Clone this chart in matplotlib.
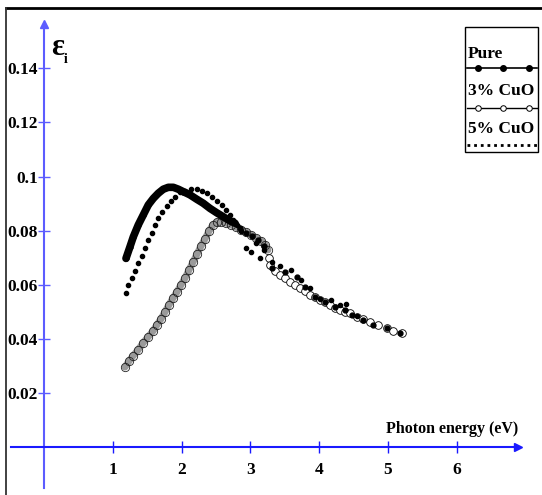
import matplotlib
matplotlib.use('Agg')
import numpy as np
import matplotlib.pyplot as plt
from matplotlib.lines import Line2D
from matplotlib.patches import Rectangle

# photon energy (eV) / imaginary part of dielectric constant
pure_e = [1.189, 1.247, 1.296, 1.368, 1.441, 1.514, 1.587, 1.659, 1.732, 1.805,
          1.878, 1.951, 2.023, 2.121, 2.218, 2.314, 2.412, 2.509, 2.606, 2.703,
          2.776, 2.849, 2.936, 3.023, 3.110, 3.198, 3.314, 3.503, 3.678, 3.795,
          3.940, 4.086, 4.231, 4.377, 4.479, 4.639, 4.785, 4.988, 5.178]
pure_eps = [0.0697, 0.0740, 0.0777, 0.0821, 0.0858, 0.0895, 0.0919, 0.0938, 0.0953, 0.0960,
            0.0960, 0.0953, 0.0944, 0.0932, 0.0916, 0.0901, 0.0882, 0.0866, 0.0851, 0.0836,
            0.0827, 0.0809, 0.0791, 0.0780, 0.0765, 0.0743, 0.0661, 0.0646, 0.0628, 0.0591,
            0.0554, 0.0536, 0.0517, 0.0506, 0.0488, 0.0469, 0.0451, 0.0440, 0.0421]

cuo3_e = [1.175, 1.233, 1.291, 1.364, 1.437, 1.510, 1.582, 1.640, 1.699, 1.757,
          1.815, 1.873, 1.932, 1.990, 2.048, 2.106, 2.164, 2.223, 2.281, 2.339,
          2.397, 2.455, 2.513, 2.572, 2.645, 2.718, 2.790, 2.863, 2.936, 3.009,
          3.081, 3.154, 3.213, 3.256, 3.271, 3.285, 3.358, 3.431, 3.503, 3.576,
          3.649, 3.722, 3.795, 3.868, 3.940, 4.013, 4.086, 4.159, 4.231, 4.304,
          4.377, 4.450, 4.552, 4.639, 4.741, 4.857, 4.989, 5.076, 5.207]
cuo3_eps = [0.0295, 0.0317, 0.0336, 0.0358, 0.0384, 0.0406, 0.0428, 0.0451, 0.0473, 0.0499,
            0.0525, 0.0550, 0.0573, 0.0599, 0.0624, 0.0654, 0.0683, 0.0713, 0.0743, 0.0769,
            0.0798, 0.0821, 0.0832, 0.0832, 0.0828, 0.0821, 0.0813, 0.0802, 0.0795, 0.0784,
            0.0773, 0.0762, 0.0747, 0.0728, 0.0698, 0.0673, 0.0650, 0.0636, 0.0625, 0.0610,
            0.0600, 0.0587, 0.0575, 0.0561, 0.0553, 0.0543, 0.0534, 0.0525, 0.0515, 0.0506,
            0.0500, 0.0495, 0.0480, 0.0473, 0.0462, 0.0451, 0.0440, 0.0428, 0.0421]

cuo5_e = [1.19, 1.223, 1.272, 1.32, 1.368, 1.418, 1.466, 1.514, 1.563, 1.611,
          1.66, 1.718, 1.78, 1.84, 1.90, 1.975, 2.048, 2.13, 2.218, 2.29,
          2.364, 2.436, 2.51, 2.58, 2.645, 2.70, 2.75, 2.805, 2.863, 2.936,
          3.009, 3.081, 3.140, 3.198, 3.314, 3.431, 3.591, 3.736, 3.868, 4.013,
          4.173, 4.304, 4.392, 4.552]
cuo5_eps = [0.0568, 0.0599, 0.0623, 0.0651, 0.0679, 0.0706, 0.0734, 0.0765, 0.0792, 0.0821,
            0.0845, 0.0870, 0.0891, 0.0910, 0.0925, 0.0941, 0.0947, 0.0953, 0.0953, 0.0947,
            0.0938, 0.0925, 0.0910, 0.0895, 0.0876, 0.0858, 0.0839, 0.0821, 0.0798, 0.0735,
            0.0721, 0.0754, 0.0698, 0.0728, 0.0684, 0.0669, 0.0654, 0.0617, 0.0587, 0.0547,
            0.0543, 0.0525, 0.0528, 0.0484]

x_ticks = [1, 2, 3, 4, 5, 6]
y_ticks = [0.02, 0.04, 0.06, 0.08, 0.10, 0.12, 0.14]
y_tick_labels = ['0.02', '0.04', '0.06', '0.08', '0.1', '0.12', '0.14']
legend_labels = ['Pure', '3% CuO', '5% CuO']

W, H = 542, 495
FONT = 'Liberation Serif'
XBLUE = '#1a1aff'
YBLUE = '#5c5cff'


def px(x, y):
    # pixel position -> axes fraction (axes fill the whole figure)
    return x / W, 1 - y / H


fig = plt.figure(figsize=(W / 100, H / 100), dpi=100)
ax = fig.add_axes([0, 0, 1, 1])
ax.set_xlim(-0.6448, 7.2445)
ax.set_ylim(-0.01783, 0.16530)

# axes through the origin with arrows
for s in ['top', 'right']:
    ax.spines[s].set_visible(False)
ax.spines['bottom'].set_position(('data', 0))
ax.spines['left'].set_position(('data', 0))
ax.spines['bottom'].set_bounds(-0.485, 6.88)
ax.spines['left'].set_bounds(-0.0152, 0.155)
ax.spines['bottom'].set_color(XBLUE)
ax.spines['left'].set_color(YBLUE)
ax.spines['bottom'].set_linewidth(1.5)
ax.spines['left'].set_linewidth(1.5)
ax.plot([6.9], [0], marker='>', color=XBLUE, ms=6, clip_on=False)
ax.plot([0], [0.1565], marker='^', color=YBLUE, ms=6, clip_on=False)

ax.set_xticks(x_ticks)
ax.set_xticklabels([str(t) for t in x_ticks])
ax.set_yticks(y_ticks)
ax.set_yticklabels(y_tick_labels)
ax.tick_params(axis='x', direction='inout', length=8, width=1, colors=XBLUE,
               labelcolor='black', pad=7)
ax.tick_params(axis='y', direction='inout', length=8, width=1, colors=YBLUE,
               labelcolor='black', pad=0.5)
for lab in ax.get_xticklabels() + ax.get_yticklabels():
    lab.set_fontfamily(FONT)
    lab.set_fontweight('bold')
    lab.set_fontsize(12.5)

# data
pure_e_arr = np.array(pure_e)
pure_eps_arr = np.array(pure_eps)
dense = pure_e_arr <= 2.78
ax.plot(pure_e_arr[dense], pure_eps_arr[dense], '-', color='black', lw=5.5,
        solid_capstyle='round', zorder=3)
ax.plot(pure_e, pure_eps, 'o', color='black', ms=3.5, zorder=3)

# 3% CuO: points crowd into a hatched band below ~3.3 eV
cuo3_e_arr = np.array(cuo3_e)
cuo3_eps_arr = np.array(cuo3_eps)
band = cuo3_e_arr <= 3.26
ax.plot(cuo3_e_arr[band], cuo3_eps_arr[band], '-', color='#9a9a9a', lw=5,
        solid_capstyle='round', zorder=2)
ax.plot(cuo3_e_arr[band], cuo3_eps_arr[band], 'o', mfc='none', mec='#222222',
        mew=0.6, ms=6, zorder=2)
ax.plot(cuo3_e_arr[~band], cuo3_eps_arr[~band], 'o', mfc='white', mec='black',
        mew=0.6, ms=5.5, zorder=2)

ax.plot(cuo5_e, cuo5_eps, 'o', color='black', ms=3, zorder=4)

# axis titles
ax.text(*px(518, 433), 'Photon energy (eV)', transform=ax.transAxes, ha='right',
        va='baseline', fontfamily=FONT, fontweight='bold', fontsize=11.5)
ax.text(*px(51, 55), 'ε', transform=ax.transAxes, ha='left', va='baseline',
        fontfamily=FONT, fontweight='bold', fontsize=22)
ax.text(*px(64, 63), 'i', transform=ax.transAxes, ha='left', va='baseline',
        fontfamily=FONT, fontweight='bold', fontsize=10)

# legend box drawn by hand (text above sample line)
x0, y0 = px(465, 152)
x1, y1 = px(538, 27)
ax.add_patch(Rectangle((x0, y0), x1 - x0, y1 - y0, transform=ax.transAxes,
                       fill=False, ec='black', lw=1, zorder=5))
for lab, base in zip(legend_labels, [58, 95, 133]):
    ax.text(*px(468, base), lab, transform=ax.transAxes, ha='left', va='baseline',
            fontfamily=FONT, fontweight='bold', fontsize=12.5, zorder=6)
lx = [467 / W, 537 / W]
mx = [478 / W, 503 / W, 529 / W]
ax.add_line(Line2D(lx, [px(0, 68)[1]] * 2, transform=ax.transAxes, color='black', lw=1.2))
ax.add_line(Line2D(mx, [px(0, 68)[1]] * 3, transform=ax.transAxes, color='black',
                   ls='none', marker='o', ms=4))
ax.add_line(Line2D(lx, [px(0, 108)[1]] * 2, transform=ax.transAxes, color='black', lw=1.0))
ax.add_line(Line2D(mx, [px(0, 108)[1]] * 3, transform=ax.transAxes, ls='none',
                   marker='o', ms=4, mfc='white', mec='black', mew=0.7))
ax.add_line(Line2D(lx, [px(0, 145)[1]] * 2, transform=ax.transAxes, color='black',
                   lw=2, ls=(0, (1, 1.4))))

# outer frame lines (top and left only)
ax.add_line(Line2D([6 / W, 1], [px(0, 8)[1]] * 2, transform=ax.transAxes, color='black', lw=2))
ax.add_line(Line2D([6 / W, 6 / W], [px(0, 8)[1], 0], transform=ax.transAxes,
                   color='#333333', lw=1.3))

fig.savefig('out.png', dpi=100)
